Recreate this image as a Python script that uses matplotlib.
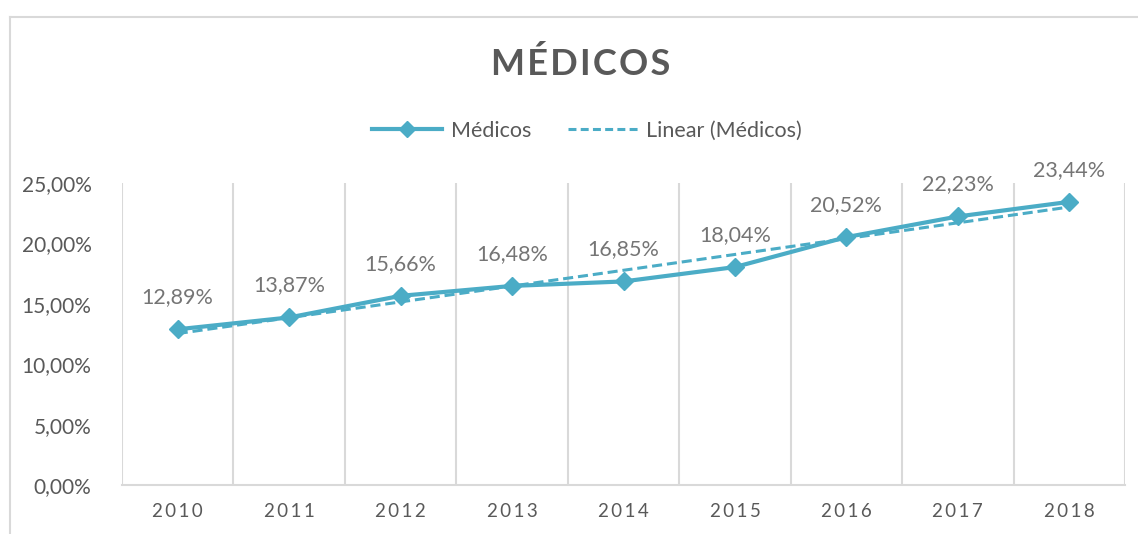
import matplotlib
matplotlib.use("Agg")
import matplotlib.pyplot as plt
import numpy as np
from matplotlib.lines import Line2D

plt.rcParams['font.family'] = ['Lato', 'DejaVu Sans']

years = ['2010', '2011', '2012', '2013', '2014', '2015', '2016', '2017', '2018']
medicos = [12.89, 13.87, 15.66, 16.48, 16.85, 18.04, 20.52, 22.23, 23.44]
yticks = [0, 5, 10, 15, 20, 25]

line_col = '#4BACC6'
grid_col = '#d9d9d9'
text_col = '#595959'
label_col = '#757575'

def spaced(s, sp='\u200a'):
    return sp.join(list(s))

x = np.arange(len(years))
# linear trendline, like Excel's
k, b = np.polyfit(x, medicos, 1)
trend = k * x + b

fig = plt.figure(figsize=(11.38, 5.34), dpi=100)
ax = fig.add_axes([122/1138, 1 - 485/534, (1125 - 122)/1138, (485 - 183)/534])

ax.plot(x, trend, '--', color=line_col, lw=2.2, dashes=(3.3, 1.6), zorder=2)
ax.plot(x, medicos, '-D', color=line_col, lw=3, markersize=9, zorder=3)

for xi, v in zip(x, medicos):
    ax.annotate(f'{v:.2f}%'.replace('.', ','), (xi, v), xytext=(0, 23),
                textcoords='offset points', ha='center', va='center',
                fontsize=15.5, color=label_col)

ax.set_xlim(-0.5, len(years) - 0.5)
ax.set_ylim(0, 25)
ax.set_yticks(yticks)
ax.set_yticklabels([f'{t},00%' for t in yticks], fontsize=15, color=text_col)
ax.set_xticks(x)
ax.set_xticklabels([spaced(y, '\u2009') for y in years], fontsize=13.5, color=text_col)
ax.tick_params(length=0, pad=13)
ax.tick_params(axis='y', pad=22)

for xb in np.arange(-0.5, len(years), 1):
    ax.axvline(xb, color=grid_col, lw=1.5, zorder=0)
for s in ['top', 'right', 'left']:
    ax.spines[s].set_visible(False)
ax.spines['bottom'].set_color(grid_col)
ax.spines['bottom'].set_linewidth(1.5)

fig.text(581/1138, 1 - 64/534, spaced('MÉDICOS'), ha='center', va='center',
         fontsize=26, fontweight='bold', color=text_col)

handles = [Line2D([], [], color=line_col, lw=3, marker='D', markersize=8),
           Line2D([], [], color=line_col, lw=2.2, ls='--', dashes=(2.6, 1.4))]
fig.legend(handles, ['Médicos', 'Linear (Médicos)'], loc='center',
           bbox_to_anchor=(587/1138, 1 - 131/534), ncol=2, frameon=False,
           fontsize=15.5, labelcolor=text_col, handlelength=3.25,
           columnspacing=1.7, handletextpad=0.4)

# chart frame (cut off at right and bottom like the reference)
fig.add_artist(Line2D([10/1138, 1], [1 - 17/534, 1 - 17/534], color=grid_col, lw=1.5,
                      transform=fig.transFigure))
fig.add_artist(Line2D([10/1138, 10/1138], [0, 1 - 17/534], color=grid_col, lw=1.5,
                      transform=fig.transFigure))

fig.savefig('out.png', dpi=100)
